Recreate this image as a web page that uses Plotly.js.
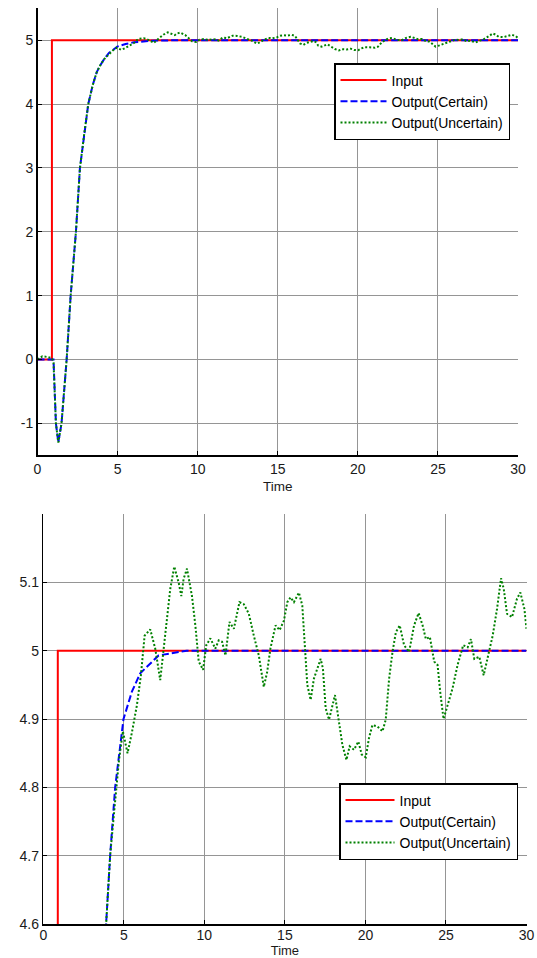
<!DOCTYPE html>
<html>
<head>
<meta charset="utf-8">
<script src="https://cdn.plot.ly/plotly-3.0.1.min.js"></script>
<style>html,body{margin:0;padding:0;background:#fff;}#chart{width:537px;height:958px;}</style>
</head>
<body>
<div id="chart"></div>
<script>
// ---- data ----
const seriesNames = ['Input', 'Output(Certain)', 'Output(Uncertain)'];
const inputT = [0, 0.9, 0.9, 30];
const inputY = [0, 0, 5, 5];
const certT = [0, 1.0, 1.15, 1.3, 1.5, 1.82, 2.07, 2.4, 2.65, 2.9, 3.17, 3.45, 3.7, 3.9, 4.15, 4.46, 4.98, 5.5, 6.02, 7.16, 8.9, 30];
const certY = [0, 0, -1.0, -1.3, -1.0, 0, 1, 2, 3, 3.5, 4.0, 4.3, 4.5, 4.6, 4.7, 4.8, 4.9, 4.94, 4.967, 4.993, 5.0, 5.0];
const uncT = [
  0, 0.3, 0.6, 0.9, 1.0, 1.15, 1.3, 1.5, 1.82, 2.07,
  2.4, 2.65, 2.9, 3.17, 3.45, 3.7, 3.9, 4.15, 4.46, 4.7,
  4.94, 5.23, 5.5, 5.81, 6.06, 6.29, 6.64, 6.95, 7.26, 7.57,
  7.88, 8.13, 8.4, 8.57, 8.71, 8.92, 9.23, 9.44, 9.65, 9.92,
  10.12, 10.37, 10.68, 10.89, 11.1, 11.31, 11.56, 11.83, 12.18, 12.45,
  12.76, 13.07, 13.38, 13.69, 13.9, 14.1, 14.42, 14.67, 14.94, 15.15,
  15.35, 15.56, 15.87, 16.08, 16.24, 16.39, 16.6, 16.8, 17.22, 17.36,
  17.53, 17.74, 18.11, 18.36, 18.57, 18.82, 19.02, 19.29, 19.56, 19.77,
  20.02, 20.22, 20.43, 20.75, 21.06, 21.26, 21.47, 21.68, 21.89, 22.13,
  22.4, 22.71, 23.02, 23.3, 23.55, 23.75, 24.0, 24.27, 24.48, 24.64,
  24.85, 25.1, 25.41, 25.72, 26.07, 26.35, 26.55, 26.76, 27.07, 27.34,
  27.59, 27.9, 28.17, 28.42, 28.59, 28.79, 29.1, 29.41, 29.62, 29.87,
  30];
const uncY = [
  0, 0.05, 0.04, 0.02, -0.05, -1.0, -1.3, -1.0, 0, 1,
  2, 3, 3.5, 4.0, 4.3, 4.5, 4.6, 4.7, 4.78, 4.84,
  4.882, 4.85, 4.88, 4.92, 4.964, 5.022, 5.031, 5.003, 4.957, 5.027,
  5.09, 5.123, 5.1, 5.08, 5.105, 5.12, 5.08, 5.037, 4.984, 4.972,
  5.008, 5.018, 5.003, 5.015, 5.013, 4.993, 5.042, 5.032, 5.071, 5.068,
  5.054, 5.022, 4.993, 4.947, 4.969, 5.003, 5.037, 5.03, 5.044, 5.071,
  5.078, 5.071, 5.085, 5.066, 4.998, 4.95, 4.928, 4.959, 4.988, 4.974,
  4.916, 4.899, 4.935, 4.896, 4.862, 4.84, 4.86, 4.855, 4.867, 4.848,
  4.844, 4.872, 4.891, 4.889, 4.882, 4.899, 4.959, 4.998, 5.027, 5.037,
  5.008, 4.998, 5.037, 5.055, 5.037, 5.017, 5.02, 4.984, 4.979, 4.94,
  4.9, 4.92, 4.945, 4.979, 5.008, 5.005, 5.017, 4.988, 4.991, 4.964,
  4.988, 5.022, 5.061, 5.106, 5.09, 5.054, 5.049, 5.076, 5.085, 5.061,
  5.032];
const xTicks = [0, 5, 10, 15, 20, 25, 30];
const yTicksTop = [-1, 0, 1, 2, 3, 4, 5];
const yTickTextTop = ['-1', '0', '1', '2', '3', '4', '5'];
const yTicksBottom = [4.6, 4.7, 4.8, 4.9, 5, 5.1];
const yTickTextBottom = ['4.6', '4.7', '4.8', '4.9', '5', '5.1'];
const xTitle = 'Time';

// ---- styles ----
const FONT = 'Liberation Sans, Arial, Helvetica, sans-serif';
const GRID = '#959595';
const styles = [
  {color: '#ff0000', width: 2, dash: 'solid'},
  {color: '#0000ff', width: 2, dash: '7px,3px'},
  {color: '#008000', width: 2, dash: '2px,2px'}
];
const sets = [[inputT, inputY], [certT, certY], [uncT, uncY]];

const traces = [];
[['x', 'y', 'legend'], ['x2', 'y2', 'legend2']].forEach(([xa, ya, lg]) => {
  sets.forEach((s, i) => {
    traces.push({
      x: s[0], y: s[1], type: 'scatter', mode: 'lines',
      name: seriesNames[i], xaxis: xa, yaxis: ya, legend: lg,
      line: Object.assign({}, styles[i]), hoverinfo: 'skip'
    });
  });
});

const W = 537, H = 958;
const px = (a, b) => [a / W, b / W];
const py = (top, bottom) => [1 - bottom / H, 1 - top / H];

function mainX(dom, anchor, standoff, tls, tsize) {
  return {
    domain: dom, anchor: anchor, range: [0, 30], tickvals: xTicks,
    ticks: 'inside', ticklen: 4, tickcolor: '#000', showline: true, linecolor: '#000', linewidth: 1.5,
    showgrid: true, gridcolor: GRID, gridwidth: 1, zeroline: false, ticklabelstandoff: tls,
    tickfont: {family: FONT, size: 14, color: '#1a1a1a'},
    title: {text: xTitle, font: {family: FONT, size: tsize, color: '#1a1a1a'}, standoff: standoff}
  };
}
function mainY(dom, anchor, range, vals, text) {
  return {
    domain: dom, anchor: anchor, range: range, tickvals: vals, ticktext: text,
    ticks: 'inside', ticklen: 4, tickcolor: '#000', showline: true, linecolor: '#000', linewidth: 1.5,
    showgrid: true, gridcolor: GRID, gridwidth: 1, zeroline: false,
    tickfont: {family: FONT, size: 14, color: '#1a1a1a'}
  };
}
function mirrorX(over, anchor, dom) {
  return {overlaying: over, anchor: anchor, domain: dom, side: 'top', range: [0, 30], tickvals: xTicks,
    ticks: 'inside', ticklen: 4, tickcolor: '#000', showticklabels: false, showgrid: false, showline: false, zeroline: false};
}
function mirrorY(over, anchor, dom, range, vals) {
  return {overlaying: over, anchor: anchor, domain: dom, side: 'right', range: range, tickvals: vals,
    ticks: 'inside', ticklen: 4, tickcolor: '#000', showticklabels: false, showgrid: false, showline: false, zeroline: false};
}

const topX = px(37.5, 518), topY = py(8.3, 455.3);
const botX = px(43.3, 526.5), botY = py(514, 924);

const legendBase = {
  bgcolor: '#ffffff', bordercolor: '#000', borderwidth: 1.5,
  font: {family: FONT, size: 14, color: '#000'},
  xanchor: 'left', yanchor: 'top', tracegroupgap: 0, itemclick: false
};

const layout = {
  width: W, height: H,
  margin: {l: 0, r: 0, t: 0, b: 0},
  paper_bgcolor: '#fff', plot_bgcolor: '#fff',
  showlegend: true,
  font: {family: FONT},
  xaxis: mainX(topX, 'y', 6, 0, 13.5),
  yaxis: mainY(topY, 'x', [-1.5, 5.5], yTicksTop, yTickTextTop),
  xaxis2: mainX(botX, 'y2', 0, -2, 13),
  yaxis2: mainY(botY, 'x2', [4.6, 5.2], yTicksBottom, yTickTextBottom),
  xaxis3: mirrorX('x', 'y', topX),
  yaxis3: mirrorY('y', 'x', topY, [-1.5, 5.5], yTicksTop),
  xaxis4: mirrorX('x2', 'y2', botX),
  yaxis4: mirrorY('y2', 'x2', botY, [4.6, 5.2], yTicksBottom),
  legend: Object.assign({}, legendBase, {x: 334 / W, y: 1 - 63 / H, itemwidth: 46}),
  legend2: Object.assign({}, legendBase, {x: 339 / W, y: 1 - 783 / H, itemwidth: 49})
};

Plotly.newPlot('chart', traces, layout, {displayModeBar: false, staticPlot: true});
</script>
</body>
</html>
